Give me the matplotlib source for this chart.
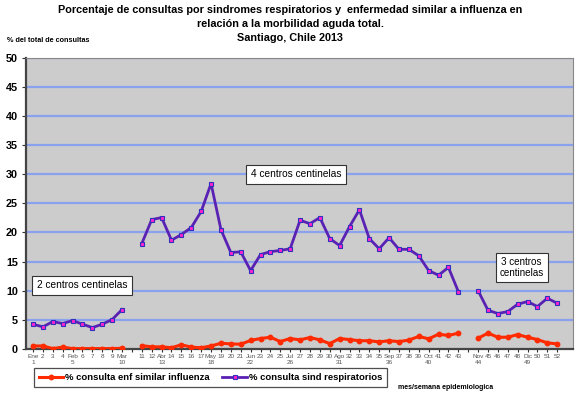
import numpy as np
import matplotlib
matplotlib.use("Agg")
import matplotlib.pyplot as plt

plt.rcParams['font.family'] = ['Liberation Sans', 'DejaVu Sans']

# categories (weeks), '' marks a gap between sentinel-center periods
tick_labels = ["Ene\n1", "2", "3", "4", "Feb\n5", "6", "7", "8", "9", "Mar\n10", "",
               "11", "12", "Abr\n13", "14", "15", "16", "17", "May\n18", "19", "20", "21",
               "Jun\n22", "23", "24", "25", "Jul\n26", "27", "28", "29", "30", "Ago\n31",
               "32", "33", "34", "35", "Sep\n36", "37", "38", "39", "Oct\n40", "41", "42", "43", "",
               "Nov\n44", "45", "46", "47", "48", "Dic\n49", "50", "51", "52"]

nan = np.nan
ili = [0.5, 0.5, 0.05, 0.3, 0.05, 0.05, 0.05, 0.05, 0.05, 0.1, nan,
       0.55, 0.35, 0.35, 0.2, 0.7, 0.3, 0.2, 0.5, 0.97, 0.85, 0.8,
       1.45, 1.78, 2.0, 1.26, 1.78, 1.55, 1.95, 1.55, 0.9, 1.78,
       1.6, 1.4, 1.4, 1.2, 1.4, 1.25, 1.5, 2.15, 1.72, 2.52, 2.3, 2.7, nan,
       1.83, 2.7, 2.0, 2.0, 2.46, 2.0, 1.6, 1.03, 0.86]
resp = [4.24, 3.78, 4.69, 4.35, 4.87, 4.24, 3.66, 4.24, 5.04, 6.76, nan,
        18.1, 22.2, 22.56, 18.67, 19.64, 20.85, 23.6, 28.4, 20.5, 16.55, 16.67,
        13.45, 16.2, 16.7, 16.9, 17.2, 22.1, 21.5, 22.56, 18.95, 17.75,
        21.0, 23.9, 18.95, 17.2, 19.1, 17.1, 17.1, 16.0, 13.46, 12.65, 14.0, 9.85, nan,
        10.0, 6.64, 6.07, 6.41, 7.67, 8.13, 7.27, 8.7, 7.84]

title_lines = ['Porcentaje de consultas por sindromes respiratorios y  enfermedad similar a influenza en',
               'relación a la morbilidad aguda total.',
               'Santiago, Chile 2013']

x = np.arange(len(tick_labels))

fig = plt.figure(figsize=(5.8, 3.96), dpi=100)
ax = fig.add_axes([0.045, 0.119, 0.943, 0.735])
ax.set_facecolor('#cccccc')
ax.set_xlim(-0.7, 54.6)
ax.set_ylim(0, 50)
ax.set_yticks(range(0, 51, 5))
for v in range(5, 51, 5):
    ax.axhline(v, color='#8aa2ee', lw=1.6, zorder=1)

l1, = ax.plot(x, ili, color='#ff2a00', lw=2.2, marker='o', ms=3.2,
              mfc='#ff2a00', mec='#ff2a00', zorder=3,
              label='% consulta enf similar influenza')
l2, = ax.plot(x, resp, color='#5a22b4', lw=2.0, marker='s', ms=3.2,
              mfc='#ff22cc', mec='#3030c0', mew=0.8, zorder=4,
              label='% consulta sind respiratorios')

ax.set_xticks(x)
ax.set_xticklabels(tick_labels, fontsize=4.6, color='#555555', linespacing=1.2)
ax.tick_params(axis='x', length=2, width=0.8, color='#333333', pad=2)
ax.tick_params(axis='y', length=3, width=0.8, color='#333333', labelsize=7.8, pad=3)
for lab in ax.get_yticklabels():
    lab.set_fontweight('bold')
for s in ['left', 'bottom']:
    ax.spines[s].set_color('#444444')
    ax.spines[s].set_linewidth(1.6)
for s in ['right', 'top']:
    ax.spines[s].set_color('#888888')
    ax.spines[s].set_linewidth(0.8)

box = dict(boxstyle='square,pad=0.45', fc='white', ec='#333333', lw=0.8)
ax.text(0.4, 10.9, '2 centros centinelas', fontsize=7.3, va='center', ha='left', bbox=box, zorder=5)
ax.text(22.0, 30.0, '4 centros centinelas', fontsize=7.3, va='center', ha='left', bbox=box, zorder=5)
ax.text(49.4, 14.0, '3 centros\ncentinelas', fontsize=7.1, va='center', ha='center',
        bbox=dict(boxstyle='square,pad=0.4', fc='white', ec='#333333', lw=0.8), zorder=5)

for i, (t, yy) in enumerate(zip(title_lines, [10, 24, 38])):
    fig.text(0.5, 1 - yy / 396, t, ha='center', va='center', fontsize=7.8, fontweight='bold')
fig.text(0.012, 1 - 41 / 396, '% del total de consultas', fontsize=5.2, fontweight='bold', va='center')

leg = fig.legend(handles=[l1, l2], loc='lower left', bbox_to_anchor=(0.05, 0.01, 0.626, 0.048),
                 mode='expand', ncol=2, frameon=True, fancybox=False,
                 prop={'weight': 'bold', 'size': 6.8}, handlelength=2.6, handletextpad=0.2,
                 borderpad=0.55, columnspacing=1.0)
leg.get_frame().set_edgecolor('#222222')
leg.get_frame().set_linewidth(0.9)
fig.text(0.686, 0.022, 'mes/semana epidemiologica', fontsize=5.0, fontweight='bold', va='center')

fig.savefig('out.png', dpi=100)
